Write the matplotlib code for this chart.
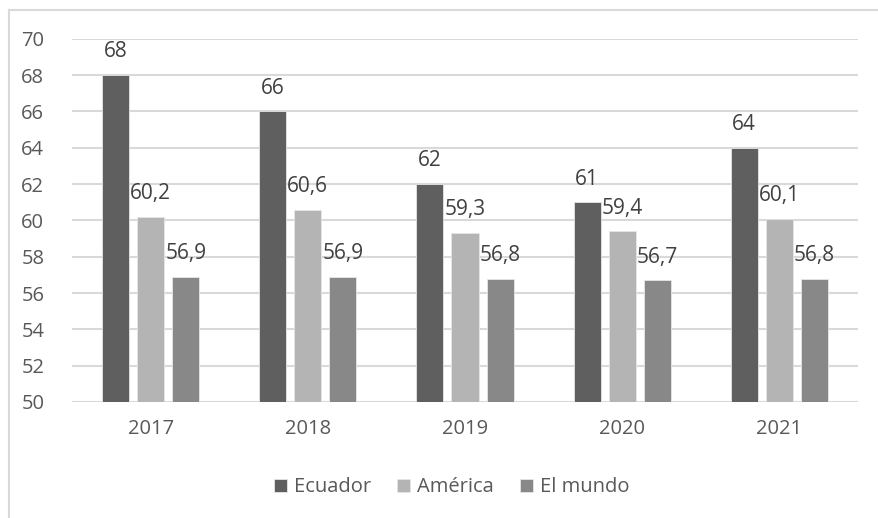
import numpy as np
import matplotlib.pyplot as plt
from matplotlib.lines import Line2D

plt.rcParams['font.family'] = ['Open Sans', 'DejaVu Sans']

years = ["2017", "2018", "2019", "2020", "2021"]
ecuador = [68, 66, 62, 61, 64]
america = [60.2, 60.6, 59.3, 59.4, 60.1]
mundo = [56.9, 56.9, 56.8, 56.7, 56.8]

series = [
    ("Ecuador", ecuador, "#5f5f5f"),
    ("América", america, "#b4b4b4"),
    ("El mundo", mundo, "#888888"),
]

fig = plt.figure(figsize=(8.79, 5.18), dpi=100)
ax = fig.add_axes([0.082, 0.224, 0.894, 0.701])

x = np.arange(len(years))
width = 0.172
step = 0.223
for i, (name, vals, col) in enumerate(series):
    pos = x + (i - 1) * step
    ax.bar(pos, vals, width, bottom=0, color=col, label=name,
           edgecolor="#e6e6e6", linewidth=0.6, zorder=3)
    for p, v in zip(pos, vals):
        txt = f"{v:g}".replace(".", ",")
        ax.text(p, v + 0.7, txt, ha="center", va="bottom",
                fontsize=15, color="#404040", zorder=4)

ax.set_ylim(50, 70)
ax.set_xlim(-0.5, len(years) - 0.5)
ax.set_yticks(range(50, 71, 2))
ax.set_xticks(x)
ax.set_xticklabels(years)
ax.tick_params(axis="both", length=0, labelsize=14.5, colors="#595959")
ax.tick_params(axis="y", pad=20)
ax.tick_params(axis="x", pad=12)
ax.grid(axis="y", color="#d9d9d9", linewidth=1.5, zorder=0)
for s in ax.spines.values():
    s.set_visible(False)

ax.legend(loc="center", bbox_to_anchor=(0.483, -0.235), ncol=3, frameon=False,
          fontsize=14.5, labelcolor="#595959", handlelength=0.65,
          handleheight=0.65, handletextpad=0.35, columnspacing=1.3)

# light outer frame (left and top edges)
fig.add_artist(Line2D([0.0105, 0.0105], [0.0, 0.981], color="#d9d9d9", lw=1.5))
fig.add_artist(Line2D([0.0105, 1.0], [0.981, 0.981], color="#d9d9d9", lw=1.5))

fig.savefig("out.png", dpi=100)
